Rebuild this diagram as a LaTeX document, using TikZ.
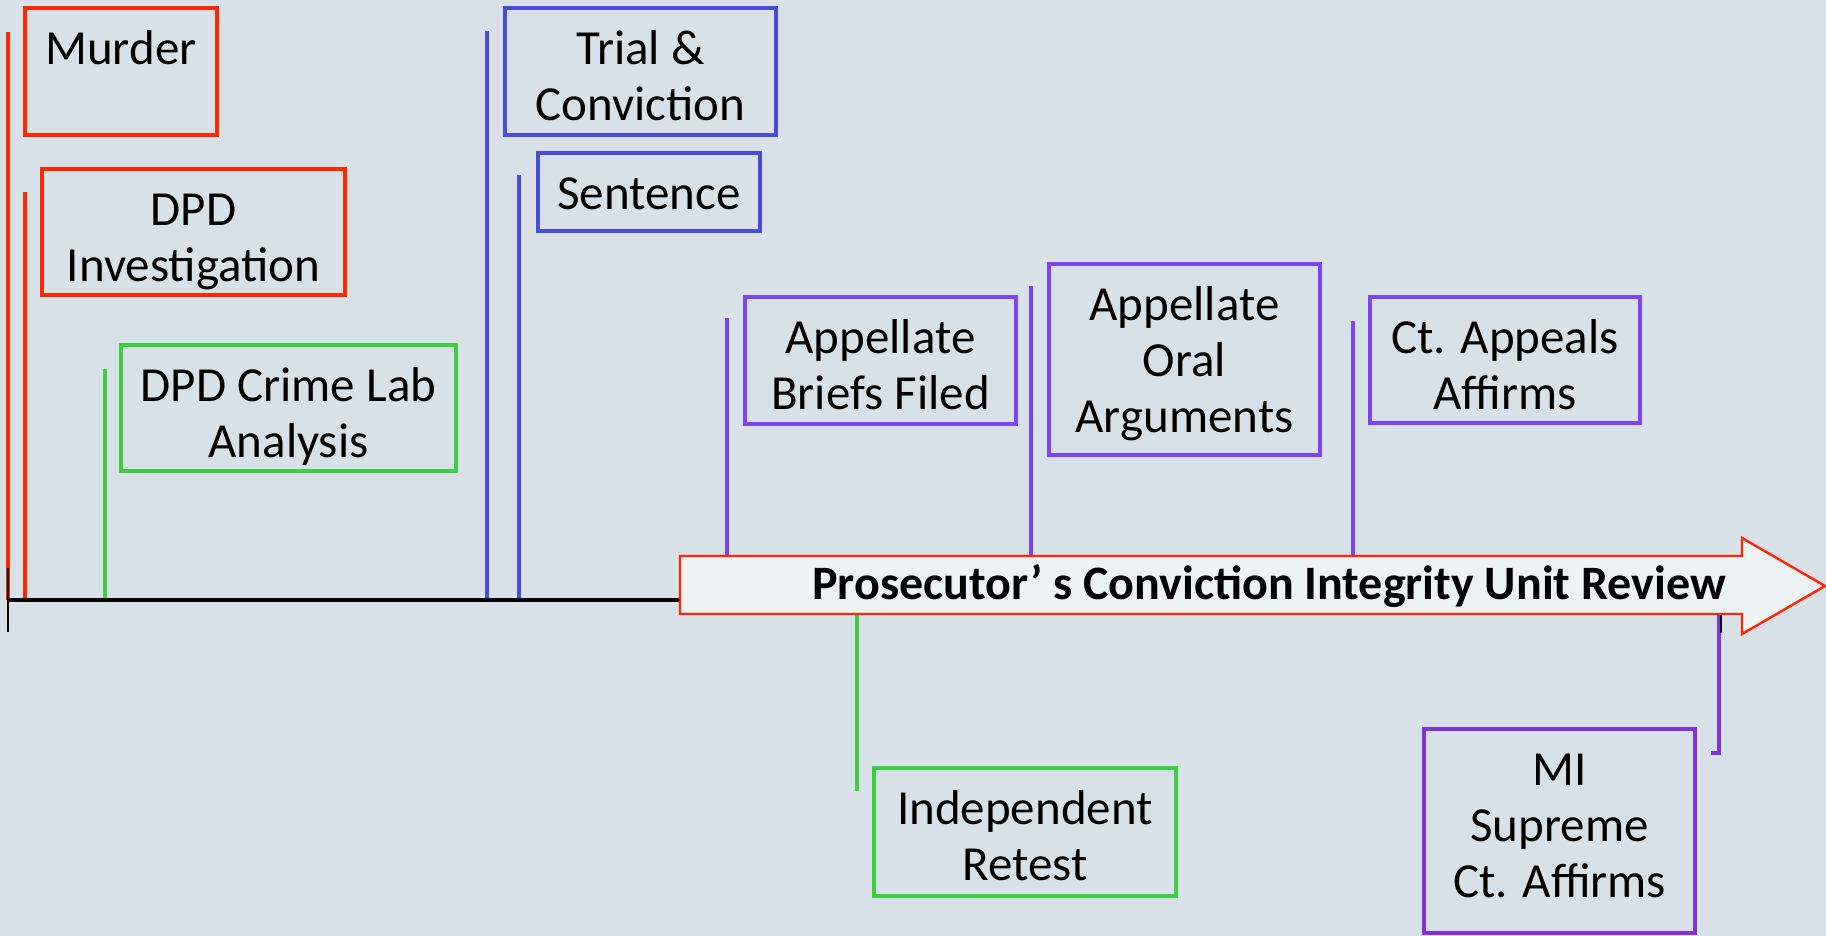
\documentclass[tikz,border=0pt]{standalone}
\usepackage{fontspec}
\setmainfont{Carlito}
\usetikzlibrary{fit}
\definecolor{bgc}{RGB}{217,225,232}
\definecolor{ered}{RGB}{255,38,0}
\definecolor{eblue}{RGB}{72,76,220}
\definecolor{epurple}{RGB}{128,66,248}
\definecolor{edpurple}{RGB}{130,50,220}
\definecolor{egreen}{RGB}{60,208,64}
\definecolor{arrfill}{RGB}{237,242,245}
\newcommand\eventbox[7]{%
  \node[evbox=#2, fit={(#3,#4) (#5,#6)}] (#1) {};
  \node[evtext] (#1txt) at ([yshift=-29pt]#1.north) {\begin{tabular}[t]{@{}c@{}}#7\end{tabular}};
}
\begin{document}
\begin{tikzpicture}[x=0.5pt,y=-0.5pt,
  evbox/.style={draw=#1, line width=1.7pt, inner sep=0pt},
  evtext/.style={anchor=base, inner sep=0pt, font=\fontsize{24.5}{28}\selectfont},
  flag/.style={draw=#1, line width=1.8pt},
]
\fill[bgc] (0,0) rectangle (1826,936);
\useasboundingbox (0,0) rectangle (1826,936);

% flag lines
\draw[flag=ered] (8,32) -- (8,600);
\draw[flag=ered] (25,192) -- (25,600);
\draw[flag=egreen] (105,369) -- (105,600);
\draw[flag=eblue] (487,31) -- (487,600);
\draw[flag=eblue] (519,175) -- (519,600);
\draw[flag=epurple] (727,318) -- (727,556);
\draw[flag=epurple] (1031,286) -- (1031,556);
\draw[flag=epurple] (1353,321) -- (1353,556);
\draw[flag=egreen] (857,614) -- (857,791);
\draw[flag=edpurple] (1719,615) -- (1719,753) -- (1711,753);

% timeline
\coordinate (tl0) at (8,600);
\coordinate (tl1) at (1721,600);
\draw[line width=2pt] (tl0) -- (tl1);
\draw[line width=1pt] (8,568) -- (8,632);
\draw[line width=1pt] (1721,568) -- (1721,633);

% big arrow
\draw[draw=ered, fill=arrfill, line width=1.2pt]
  (680,556) -- (1742,556) -- (1742,538) -- (1825,586) -- (1742,634) -- (1742,614) -- (680,614) -- cycle;
\node[font=\fontsize{24}{28}\selectfont\bfseries, anchor=base, inner sep=0pt] (cuir) at (1269,599)
  {Prosecutor’ s Conviction Integrity Unit Review};

% event boxes
\eventbox{murder}{ered}{25}{8}{217}{135}{Murder}
\eventbox{dpdinv}{ered}{42}{169}{345}{295}{DPD\\Investigation}
\eventbox{crimelab}{egreen}{121}{345}{456}{471}{DPD Crime Lab\\Analysis}
\eventbox{trial}{eblue}{505}{8}{776}{135}{Trial \&\\Conviction}
\eventbox{sentence}{eblue}{538}{153}{760}{231}{Sentence}
\eventbox{briefs}{epurple}{745}{297}{1016}{424}{Appellate\\Briefs Filed}
\eventbox{oral}{epurple}{1049}{264}{1320}{455}{Appellate\\Oral\\Arguments}
\eventbox{ctapp}{epurple}{1370}{297}{1640}{423}{Ct. Appeals\\Affirms}
\eventbox{retest}{egreen}{874}{768}{1176}{896}{Independent\\Retest}
\eventbox{mi}{edpurple}{1424}{729}{1695}{933}{MI\\Supreme\\Ct. Affirms}
\end{tikzpicture}
\end{document}
